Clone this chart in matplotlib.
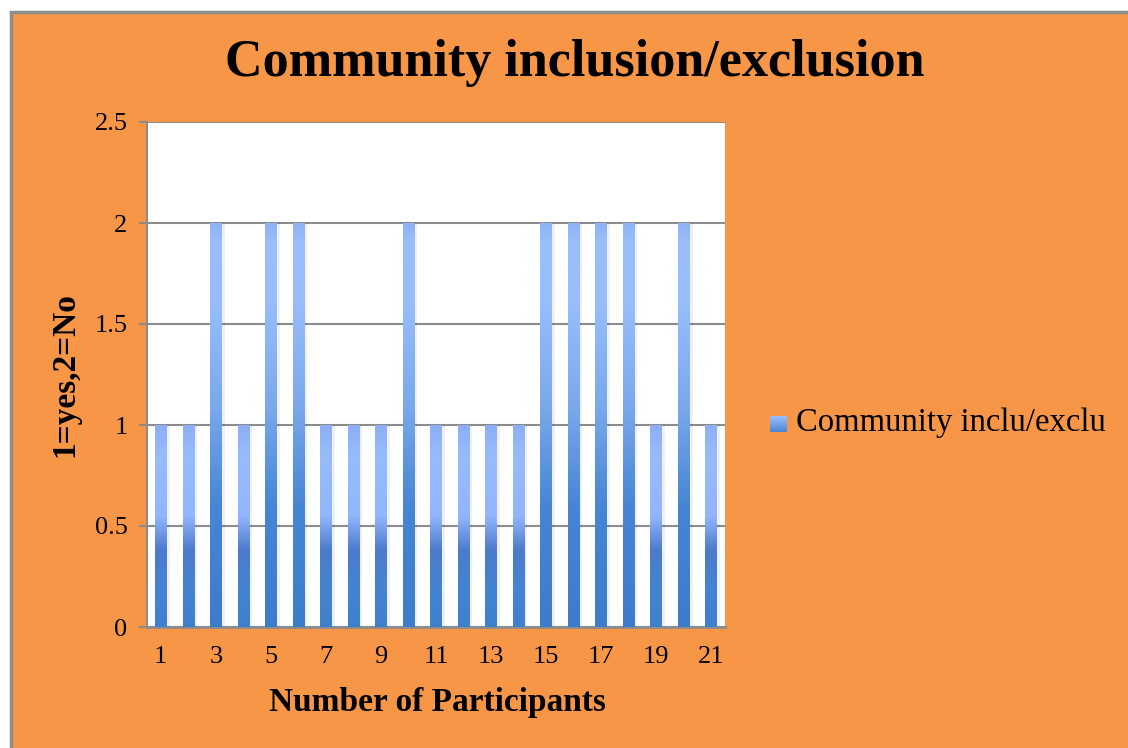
import numpy as np
import matplotlib.pyplot as plt
from matplotlib.colors import LinearSegmentedColormap
from matplotlib.patches import Rectangle

# Data
participants = list(range(1, 22))
answers = [1, 1, 2, 1, 2, 2, 1, 1, 1, 2, 1, 1, 1, 1, 2, 2, 2, 2, 1, 2, 1]
y_ticks = [0, 0.5, 1, 1.5, 2, 2.5]
x_ticklabels = ['1', '3', '5', '7', '9', '11', '13', '15', '17', '19', '21']

orange = '#F79646'
grey = '#8C8C8C'

# vertical gradients of the bars (bottom -> top), short and tall bars look a bit different
short_cmap = LinearSegmentedColormap.from_list('short', [
    (0.0, '#3F80CE'), (0.2, '#4584D2'), (0.38, '#4C7BCB'),
    (0.55, '#92B6FF'), (0.85, '#97BCFB'), (1.0, '#8DAEF6')])
tall_cmap = LinearSegmentedColormap.from_list('tall', [
    (0.0, '#3D7CCB'), (0.3, '#4786D4'), (0.55, '#7BA9EC'),
    (0.8, '#97BDFB'), (0.95, '#9ABFFA'), (1.0, '#8FB3F4')])
grad = np.linspace(0, 1, 256).reshape(-1, 1)

plt.rcParams['font.family'] = ['Liberation Serif', 'DejaVu Serif']

fig = plt.figure(figsize=(11.28, 7.48), dpi=100)
fig.patch.set_facecolor('white')
# orange chart area with grey frame
frame = Rectangle((11/1128, -0.1), 1.2, 1.1 - 12/748, transform=fig.transFigure,
                  facecolor=orange, edgecolor=grey, linewidth=2.5, zorder=-5)
fig.patches.append(frame)

ax = fig.add_axes([147/1128, 1 - 627/748, 578/1128, 505/748])
ax.set_facecolor('white')

w = 0.42
for x, v in zip(participants, answers):
    cm = tall_cmap if v > 1 else short_cmap
    # soft shadow on the right
    ax.add_patch(Rectangle((x - w/2 + 0.05, 0), w + 0.06, v, facecolor='#000000',
                           alpha=0.06, edgecolor='none', zorder=2))
    ax.imshow(grad, cmap=cm, origin='lower', aspect='auto',
              extent=(x - w/2, x + w/2, 0, v), zorder=3)
ax.set_xlim(0.5, 21.5)
ax.set_ylim(0, 2.5)

ax.set_yticks(y_ticks)
ax.set_yticklabels(['0', '0.5', '1', '1.5', '2', '2.5'])
ax.yaxis.grid(True, color=grey, linewidth=1.5)
ax.set_axisbelow(True)
ax.set_xticks(participants[::2])
ax.set_xticklabels(x_ticklabels)
ax.tick_params(axis='x', length=0, pad=14, labelsize=19)
ax.tick_params(axis='y', length=6, width=1.5, color=grey, direction='out', pad=8, labelsize=19)
for side in ['top', 'right']:
    ax.spines[side].set_visible(False)
ax.spines['left'].set_color(grey)
ax.spines['left'].set_linewidth(1.5)
ax.spines['bottom'].set_color(grey)
ax.spines['bottom'].set_linewidth(2)

fig.text(575/1128, 1 - 63/748, 'Community inclusion/exclusion', ha='center', va='center',
         fontsize=37.5, fontweight='bold')
fig.text(437/1128, 1 - 702/748, 'Number of Participants', ha='center', va='center',
         fontsize=24, fontweight='bold')
fig.text(65/1128, 1 - 375/748, '1=yes,2=No', ha='center', va='center', rotation=90,
         fontsize=24, fontweight='bold')

# legend
lax = fig.add_axes([770/1128, 1 - 432/748, 17/1128, 16/748])
lax.imshow(grad, cmap=LinearSegmentedColormap.from_list('l', ['#4A86D4', '#9CBFFF']),
           origin='lower', aspect='auto', extent=(0, 1, 0, 1))
lax.axis('off')
fig.text(796/1128, 1 - 423/748, 'Community inclu/exclu', ha='left', va='center', fontsize=23.5)

fig.savefig('out.png', dpi=100, facecolor=fig.get_facecolor())
